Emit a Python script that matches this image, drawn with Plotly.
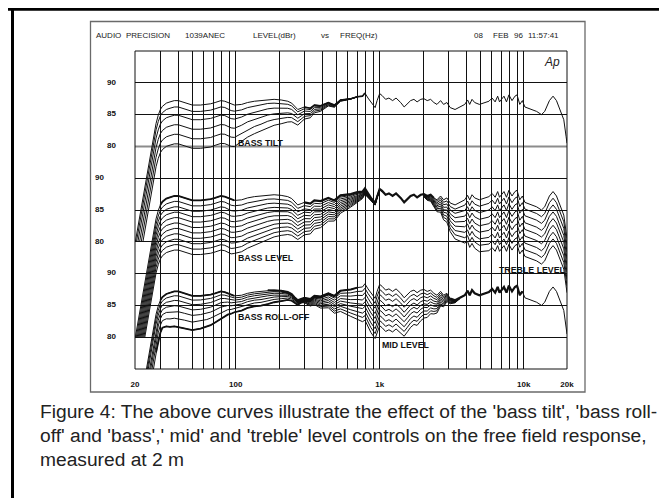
import numpy as np
import plotly.graph_objects as go

# ---------------- values ----------------
freq_hz = [20, 21, 22, 23, 24, 25, 26, 27, 28, 29, 30, 31, 33, 35, 37.5, 40, 44, 50, 57, 63,
           67, 72, 79, 84, 88, 93, 98, 110, 121, 135, 150, 167, 185, 207, 230, 245, 256, 270, 285, 300,
           330, 352, 389, 440, 485, 535, 630, 700,
           760, 790, 830, 870, 930, 960, 1000, 1040, 1100, 1160, 1230, 1300, 1400, 1480, 1560, 1640,
           1730, 1820, 1930, 2030, 2140, 2260, 2380, 2500, 2650, 2780, 2930, 3090, 3340, 3610, 3900,
           4080, 4220, 4380, 4570, 4930, 5320, 5740, 6040, 6340, 6600, 6800, 7300, 7600, 7900, 8300,
           8700, 9000, 9400, 9800, 10200, 10800, 11400, 12300, 13300, 14000, 15100, 16000, 16900,
           18100, 19000, 19700, 20000]

# full-range (flat) free field response, dBr
response_db = [64.7, 67.5, 70.1, 72.6, 75.0, 77.4, 79.6, 81.7, 83.6, 84.9,
               85.8, 86.3, 86.8, 87.0, 87.2, 87.2, 86.9, 86.5, 86.5, 86.6,
               86.7, 86.9, 87.2, 87.1, 86.9, 86.6, 86.5, 86.6, 86.9, 87.1,
               87.2, 87.4, 87.4, 87.3, 87.1, 86.8, 86.3, 85.8, 86.0, 86.2,
               86.0, 86.5, 86.4, 86.9, 86.5, 87.3, 87.5, 87.8,
               87.9, 88.4, 87.6, 86.9, 86.1, 87.2, 88.3, 88.0, 87.4, 87.6,
               87.2, 87.6, 86.9, 86.2, 86.7, 87.2, 87.4, 87.0, 87.4, 87.5,
               87.2, 87.4, 86.9, 86.6, 87.2, 86.6, 86.9, 86.1, 85.8, 86.2,
               86.6, 87.3, 86.6, 87.4, 86.9, 86.6, 86.9, 87.1, 87.6, 87.0,
               87.9, 87.0, 87.9, 87.0, 88.1, 87.2, 87.9, 88.1, 86.6, 87.2,
               86.2, 86.0, 85.7, 85.5, 85.0, 85.5, 87.2, 87.9, 87.2, 85.3,
               84.2, 81.6, 80.5]

# bass tilt (top panel): relative cut vs frequency from 20 Hz, and cut of each curve
tilt_shape = [1.0] * 17 + [1.0, 1.0, 1.0, 1.0, 0.99, 0.99, 0.98, 0.98, 0.97, 0.96,
                           0.86, 0.80, 0.75, 0.70, 0.65, 0.60, 0.55, 0.48, 0.43, 0.40,
                           0.36, 0.32, 0.28, 0.22, 0.18, 0.13, 0.08, 0.05, 0.03, 0.01, 0.0]
tilt_depth_db = [0, -1.0, -2.3, -3.8, -5.3, -6.8]

# bass level (middle panel)
bass_level_shape = [1.0] * 26 + [0.98, 0.96, 0.93, 0.90, 0.86, 0.82, 0.78, 0.74, 0.70, 0.68,
                                 0.66, 0.64, 0.62, 0.60, 0.56, 0.53, 0.49, 0.43, 0.38, 0.33,
                                 0.24, 0.18, 0.13, 0.11, 0.08, 0.06, 0.04, 0.03, 0.02, 0.01]
bass_level_depth_db = [0, -0.85, -1.7, -2.55, -3.4, -4.25, -5.1, -5.95, -6.8, -7.65, -8.5]

# treble level (middle panel), from 2030 Hz
treble_from_hz = 2030
treble_shape = [0.05, 0.08, 0.12, 0.17, 0.22, 0.30, 0.37, 0.45, 0.53, 0.63, 0.72, 0.80, 0.85,
                0.88, 0.90, 0.93, 0.96, 0.98] + [1.0] * 26
treble_depth_db = [0, -1.05, -2.1, -3.2, -4.25, -5.3, -6.4, -7.45, -8.5]

# bass roll-off (bottom panel)
rolloff_shape = [1.2, 1.2, 1.2, 1.18, 1.16, 1.17, 1.18, 1.2, 1.07, 0.98,
                 0.91, 0.86, 0.91, 0.96, 0.98, 1.0, 0.98, 0.96, 0.92, 0.89,
                 0.86, 0.82, 0.77, 0.70, 0.60, 0.52, 0.46, 0.43, 0.41, 0.40,
                 0.40, 0.39, 0.34, 0.29, 0.22, 0.19, 0.16, 0.13, 0.10, 0.09,
                 0.06, 0.045, 0.03, 0.02, 0.01, 0.0]
rolloff_depth_db = [0, -0.7, -1.45, -2.3, -3.2, -4.3, -5.6]

# mid level (bottom panel), from 207 Hz
mid_from_hz = 207
mid_shape = [0.02, 0.03, 0.04, 0.05, 0.07, 0.09, 0.12, 0.17, 0.21, 0.28,
             0.35, 0.42, 0.50, 0.65, 0.76, 0.84, 0.88, 0.92, 0.95, 0.97,
             0.99, 1.0, 1.0, 1.0, 0.99, 0.98, 0.97, 0.95, 0.93, 0.90,
             0.87, 0.83, 0.79, 0.74, 0.69, 0.63, 0.57, 0.50, 0.43, 0.35,
             0.28, 0.20, 0.13, 0.06, 0.02]
mid_depth_db = [0, -0.8, -1.6, -2.45, -3.25, -4.05, -4.9, -5.7, -6.5]

x_tick_hz = [20, 100, 1000, 10000, 20000]
x_tick_text = ["20", "100", "1k", "10k", "20k"]
y_tick_db = [80, 85, 90]
y_tick_text = ["80", "85", "90"]

panel_labels = ["BASS TILT", "BASS LEVEL", "BASS ROLL-OFF", "MID LEVEL", "TREBLE LEVEL"]
header_items = ["AUDIO", "PRECISION", "1039ANEC", "LEVEL(dBr)", "vs", "FREQ(Hz)",
                "08", "FEB", "96", "11:57:41"]
caption_lines = [
    "Figure 4: The above curves illustrate the effect of the 'bass tilt', 'bass roll-",
    "off' and 'bass',' mid' and 'treble' level controls on the free field response,",
    "measured at 2 m",
]

# ---------------- geometry ----------------
W, H = 667, 498
ML, MR, MT, MB = 127, 108, 43, 137
PW, PH = W - ML - MR, H - MT - MB


def px(x):
    return (x - ML) / PW


def py(y):
    return (H - MB - y) / PH


FONT = "Liberation Sans, Arial, Helvetica, sans-serif"
INK = "#111111"

f = np.array(freq_hz, dtype=float)
R = np.array(response_db, dtype=float)

fig = go.Figure()


def add_line(xs, ys, axis, width=1.0):
    fig.add_trace(go.Scatter(x=list(xs), y=list(ys), mode="lines", xaxis="x", yaxis=axis,
                             line=dict(color=INK, width=width), hoverinfo="skip",
                             showlegend=False))


def variants(start_hz, shape, depths):
    i0 = freq_hz.index(start_hz)
    s = np.array(shape, dtype=float)
    seg = slice(i0, i0 + len(s))
    return [(f[seg], R[seg] + d * s) for d in depths if d != 0]


# grid accent line (darker grey horizontal at top panel 80)
fig.add_trace(go.Scatter(x=[20, 20000], y=[7, 7], mode="lines", xaxis="x", yaxis="y",
                         line=dict(color="#8c8c8c", width=2), hoverinfo="skip", showlegend=False))

# ---- top panel: bass tilt ----
for xs, ys in variants(20, tilt_shape, tilt_depth_db):
    add_line(xs, ys, "y2")
add_line(f, R, "y2")
add_line(f[39:50], R[39:50], "y2", 1.6)

# ---- middle panel: bass level + treble level ----
for xs, ys in variants(20, bass_level_shape, bass_level_depth_db):
    add_line(xs, ys, "y3")
for xs, ys in variants(treble_from_hz, treble_shape, treble_depth_db):
    add_line(xs, ys, "y3")
add_line(f, R, "y3")
add_line(f[10:27], R[10:27], "y3", 1.8)
add_line(f[39:71], R[39:71], "y3", 2.2)

# ---- bottom panel: bass roll-off + mid level ----
roll = variants(20, rolloff_shape, rolloff_depth_db)
for xs, ys in roll:
    add_line(xs, ys, "y4")
for xs, ys in variants(mid_from_hz, mid_shape, mid_depth_db):
    add_line(xs, ys, "y4")
add_line(f, R, "y4")
add_line(f[10:27], R[10:27], "y4", 1.8)
add_line(roll[-1][0][8:], roll[-1][1][8:], "y4", 1.8)
add_line(f[31:48], R[31:48], "y4", 2.0)
add_line(f[75:98], R[75:98], "y4", 2.2)

minor_grid = [m * 10 ** e for e in (1, 2, 3) for m in range(2, 10)]
minor_grid = [v for v in minor_grid if v not in x_tick_hz and v < 20000]

tick_font = dict(family=FONT, size=8, color=INK)

fig.update_layout(
    width=W, height=H,
    margin=dict(l=ML, r=MR, t=MT, b=MB, pad=0),
    paper_bgcolor="white", plot_bgcolor="rgba(0,0,0,0)",
    showlegend=False,
    xaxis=dict(type="log", range=[np.log10(20), np.log10(20000)], domain=[0, 1], anchor="y",
               tickvals=x_tick_hz, ticktext=["<b>%s</b>" % t for t in x_tick_text],
               tickfont=tick_font, ticks="", ticklabelstandoff=9,
               showgrid=True, gridcolor=INK, gridwidth=1.3, zeroline=False, showline=False,
               minor=dict(tickvals=minor_grid, showgrid=True, gridcolor=INK, gridwidth=1, ticks="")),
    yaxis=dict(domain=[0, 1], range=[0, 10], tickvals=list(range(11)), showticklabels=False,
               showgrid=True, gridcolor=INK, gridwidth=1, zeroline=False, ticks="", anchor="x"),
    yaxis2=dict(domain=[0.4, 1.0], range=[65, 95], anchor="x", tickvals=y_tick_db,
                ticktext=["<b>%s</b>" % t for t in y_tick_text], tickfont=tick_font,
                ticks="", ticklabelstandoff=18, ticklabelshift=-1,
                showgrid=False, zeroline=False, showline=False),
    yaxis3=dict(domain=[0.1, 0.7], range=[65, 95], anchor="x", tickvals=y_tick_db,
                ticktext=["<b>%s</b>" % t for t in y_tick_text], tickfont=tick_font,
                ticks="", ticklabelstandoff=30, ticklabelshift=-1,
                showgrid=False, zeroline=False, showline=False),
    yaxis4=dict(domain=[0.0, 0.4], range=[75, 95], anchor="x", tickvals=y_tick_db,
                ticktext=["<b>%s</b>" % t for t in y_tick_text], tickfont=tick_font,
                ticks="", ticklabelstandoff=18, ticklabelshift=-1,
                showgrid=False, zeroline=False, showline=False),
)

shapes = [
    # plot border
    dict(type="rect", xref="paper", yref="paper", x0=0, x1=1, y0=0, y1=1,
         line=dict(color=INK, width=1)),
    # chart frame
    dict(type="rect", xref="paper", yref="paper", x0=px(82.5), x1=px(577), y0=py(384), y1=py(13.5),
         line=dict(color="#6a6a6a", width=1.3)),
    # outer page rules
    dict(type="line", xref="paper", yref="paper", x0=px(0), x1=px(W), y0=py(1.3), y1=py(1.3),
         line=dict(color="black", width=2.8)),
    dict(type="line", xref="paper", yref="paper", x0=px(4.5), x1=px(4.5), y0=py(0), y1=py(H),
         line=dict(color="black", width=3)),
]
fig.update_layout(shapes=shapes)

ann = []
header_x = [86, 116, 175, 243, 311, 330, 464, 483, 504, 518]
for t, x in zip(header_items, header_x):
    ann.append(dict(text=t, x=px(x), y=py(27.5), xref="paper", yref="paper", xanchor="left",
                    yanchor="middle", showarrow=False, font=dict(family=FONT, size=8, color="#222")))
ann.append(dict(text="<i>Ap</i>", x=px(544), y=py(54), xref="paper", yref="paper", xanchor="center",
                yanchor="middle", showarrow=False, font=dict(family=FONT, size=12, color="#222")))

label_pos = [(228, 135, "left"), (228, 250, "left"), (228, 308.5, "left"), (372, 337, "left"),
             (560, 262, "right")]
for t, (x, y, anc) in zip(panel_labels, label_pos):
    ann.append(dict(text="<b>%s</b>" % t, x=px(x), y=py(y), xref="paper", yref="paper",
                    xanchor=anc, yanchor="middle", showarrow=False,
                    font=dict(family=FONT, size=8.8, color=INK)))

for i, line in enumerate(caption_lines):
    ann.append(dict(text=line, x=px(30), y=py(403 + 24 * i), xref="paper", yref="paper",
                    xanchor="left", yanchor="middle", showarrow=False,
                    font=dict(family=FONT, size=19.2, color="#222")))
fig.update_layout(annotations=ann)

fig.write_html("out.html")
